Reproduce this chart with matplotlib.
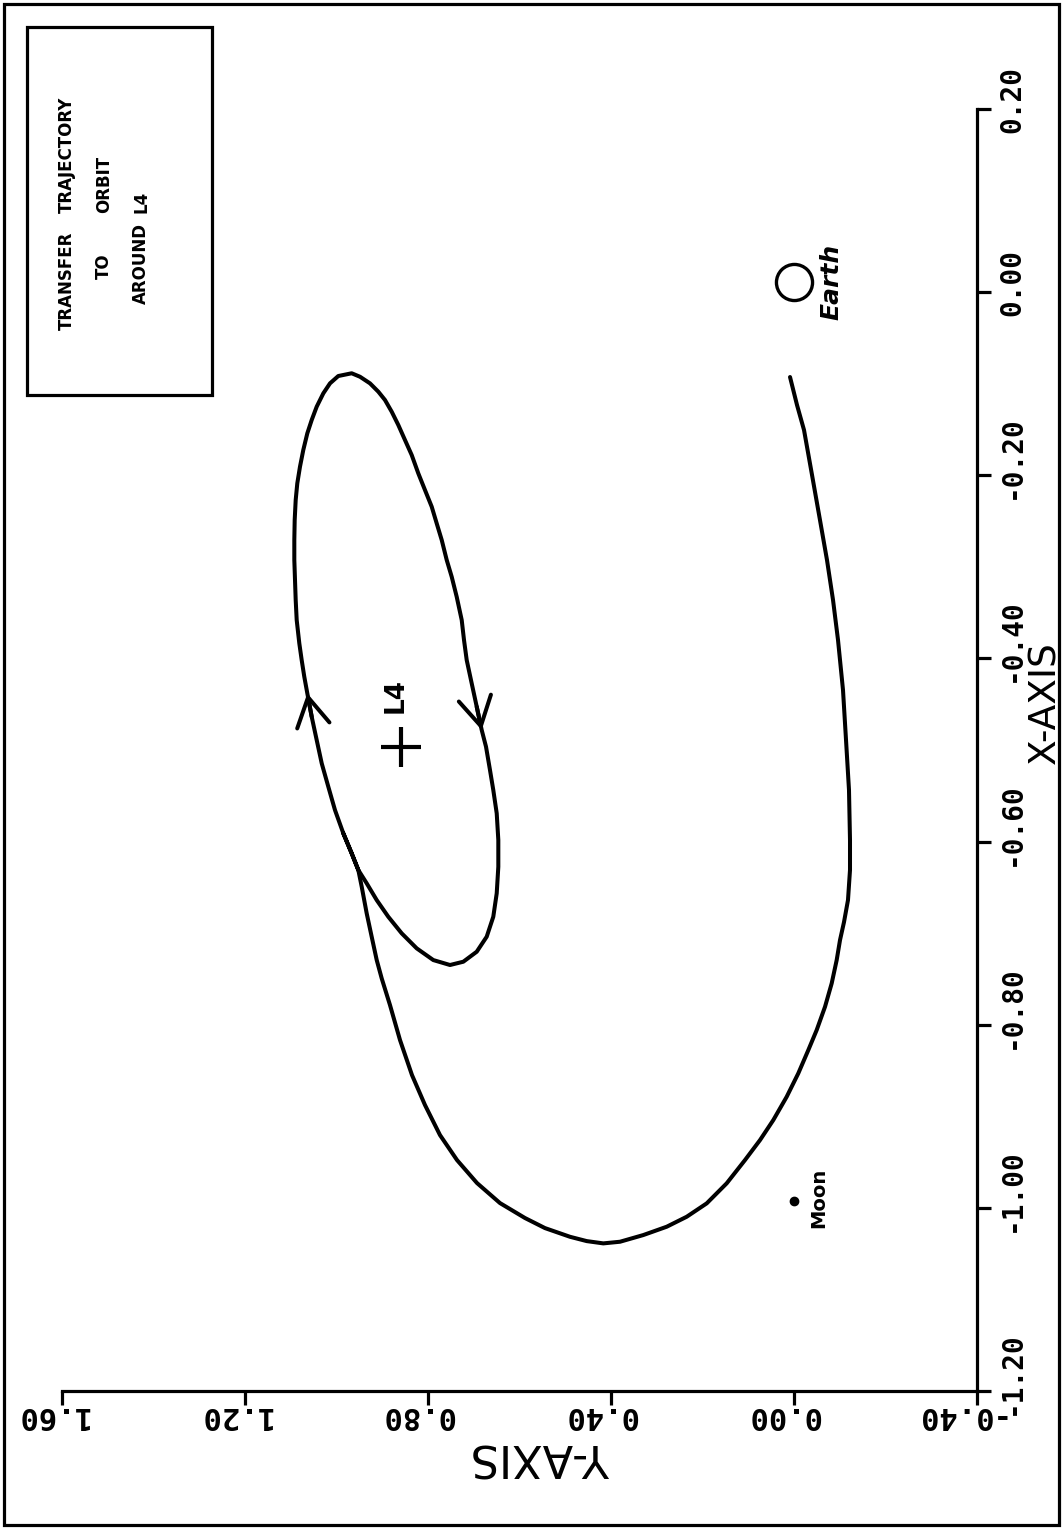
import matplotlib
matplotlib.use("Agg")
import matplotlib.pyplot as plt
from matplotlib.transforms import ScaledTranslation
from matplotlib.patches import Rectangle

# Transfer trajectory (rotating frame, Earth-Moon units): leg from near Earth
# sweeping round the Moon side and joining the periodic orbit around L4.
traj_x = [-0.0927, -0.1233, -0.1506, -0.1997, -0.2489, -0.2925, -0.3362, -0.3799,
          -0.4345, -0.4891, -0.5437, -0.5983, -0.6311, -0.6639, -0.6879, -0.7075,
          -0.7294, -0.7548, -0.7804, -0.8058, -0.8277, -0.8531, -0.8787, -0.9041,
          -0.9260, -0.9478, -0.9732, -0.9951, -1.0097, -1.0206, -1.0297, -1.0370,
          -1.0388, -1.0363, -1.0316, -1.0221, -1.0111, -0.9948, -0.9729, -0.9478,
          -0.9205, -0.8877, -0.8550, -0.8167, -0.7785, -0.7494, -0.7294, -0.7039,
          -0.6784, -0.6493, -0.6311]
traj_y = [0.0087, -0.0066, -0.0219, -0.0394, -0.0568, -0.0721, -0.0853, -0.0962,
          -0.1071, -0.1137, -0.1202, -0.1224, -0.1224, -0.1180, -0.1093, -0.1006,
          -0.0933, -0.0824, -0.0678, -0.0496, -0.0313, -0.0094, 0.0160, 0.0452,
          0.0743, 0.1071, 0.1471, 0.1908, 0.2345, 0.2782, 0.3294, 0.3803,
          0.4168, 0.4531, 0.4896, 0.5443, 0.5880, 0.6426, 0.6929, 0.7366,
          0.7738, 0.8066, 0.8350, 0.8612, 0.8831, 0.9012, 0.9121, 0.9231,
          0.9340, 0.9449, 0.9523]

# Periodic orbit around L4, starting where the transfer leg joins it
orbit_x = [-0.6311, -0.6129, -0.5910, -0.5656, -0.5401, -0.5146, -0.4891, -0.4637,
           -0.4381, -0.4200, -0.4018, -0.3835, -0.3581, -0.3362, -0.3144, -0.2925,
           -0.2707, -0.2489, -0.2270, -0.2088, -0.1906, -0.1724, -0.1542, -0.1396,
           -0.1251, -0.1105, -0.0996, -0.0916, -0.0886, -0.0924, -0.0996, -0.1087,
           -0.1178, -0.1306, -0.1451, -0.1615, -0.1779, -0.1979, -0.2161, -0.2343,
           -0.2525, -0.2707, -0.2925, -0.3108, -0.3326, -0.3581, -0.3799, -0.4018,
           -0.4272, -0.4527, -0.4782, -0.4964, -0.5219, -0.5437, -0.5692, -0.5983,
           -0.6275, -0.6565, -0.6821, -0.7039, -0.7203, -0.7312, -0.7348, -0.7294,
           -0.7166, -0.7002, -0.6821, -0.6639, -0.6456, -0.6311, -0.6129, -0.5910]
orbit_y = [0.9523, 0.9668, 0.9851, 1.0033, 1.0179, 1.0323, 1.0433, 1.0542,
           1.0638, 1.0704, 1.0761, 1.0813, 1.0870, 1.0892, 1.0907, 1.0922,
           1.0922, 1.0914, 1.0892, 1.0857, 1.0798, 1.0726, 1.0638, 1.0542,
           1.0433, 1.0288, 1.0142, 0.9961, 0.9668, 0.9486, 0.9268, 0.9086,
           0.8940, 0.8793, 0.8649, 0.8503, 0.8356, 0.8212, 0.8066, 0.7919,
           0.7810, 0.7700, 0.7591, 0.7482, 0.7373, 0.7263, 0.7213, 0.7154,
           0.7045, 0.6935, 0.6826, 0.6732, 0.6645, 0.6573, 0.6498, 0.6463,
           0.6463, 0.6498, 0.6573, 0.6717, 0.6935, 0.7228, 0.7519, 0.7884,
           0.8247, 0.8575, 0.8868, 0.9121, 0.9340, 0.9523, 0.9668, 0.9851]

# Direction arrows: (head index, tail index) into the orbit arrays
arrow_pairs = [(8, 7), (50, 49)]

earth = (0.011, 0.0)
moon = (-0.993, 0.0)
l4 = (-0.497, 0.858)

x_ticks = [0.20, 0.00, -0.20, -0.40, -0.60, -0.80, -1.00, -1.20]
y_ticks = [1.60, 1.20, 0.80, 0.40, 0.00, -0.40]
x_lim = (-1.2, 0.2)
y_lim = (1.6, -0.4)

legend_words = ["TRANSFER", "TRAJECTORY", "TO", "ORBIT", "AROUND", "L4"]

W, H, DPI = 1062, 1529, 100
fig = plt.figure(figsize=(W / DPI, H / DPI), dpi=DPI)
fig.patch.set_facecolor("white")

# The plot is laid out in landscape and turned a quarter turn:
# X runs up the right-hand axis, Y runs right-to-left along the bottom.
L, R, T, B = 62, 977, 109, 1391
ax = fig.add_axes([L / W, 1 - B / H, (R - L) / W, (B - T) / H])
ax.set_xlim(*y_lim)
ax.set_ylim(*x_lim)

lw = 2.9
ax.plot(traj_y, traj_x, color="black", lw=lw, solid_capstyle="round",
        solid_joinstyle="round")
ax.plot(orbit_y, orbit_x, color="black", lw=lw, solid_capstyle="round",
        solid_joinstyle="round")

for h, t in arrow_pairs:
    ax.annotate("", xy=(orbit_y[h], orbit_x[h]), xytext=(orbit_y[t], orbit_x[t]),
                arrowprops=dict(arrowstyle="->,head_length=1.03,head_width=0.59",
                                lw=lw, color="black", shrinkA=0, shrinkB=0,
                                mutation_scale=20))

# Bodies and libration point
ax.plot([earth[1]], [earth[0]], marker="o", ms=26, mfc="none", mec="black", mew=2.4)
ax.plot([moon[1]], [moon[0]], marker="o", ms=6, color="black")
ax.plot([l4[1]], [l4[0]], marker="+", ms=29, mew=3.0, color="black")

ax.text(earth[1] - 0.081, earth[0], "Earth", rotation=90, ha="center", va="center",
        fontsize=18, fontweight="bold", fontstyle="italic", family="DejaVu Sans")
ax.text(moon[1] - 0.055, moon[0] + 0.004, "Moon", rotation=90, ha="center", va="center",
        fontsize=14, fontweight="bold", family="DejaVu Sans")
ax.text(l4[1] + 0.012, l4[0] + 0.056, "L4", rotation=90, ha="center", va="center",
        fontsize=19, fontweight="bold", family="DejaVu Sans")

# Axes frame: only the right (X) and bottom (Y) lines
for s in ("left", "top"):
    ax.spines[s].set_visible(False)
for s in ("right", "bottom"):
    ax.spines[s].set_linewidth(2.3)
ax.yaxis.tick_right()
ax.set_xticks(y_ticks)
ax.set_yticks(x_ticks)
ax.tick_params(direction="out", length=10, width=2.3, labelbottom=False,
               labelright=False, labelleft=False)

mono = dict(family="DejaVu Sans Mono", fontweight="bold")
xt = ax.get_yaxis_transform() + ScaledTranslation(21 / DPI, -24 / DPI, fig.dpi_scale_trans)
for v in x_ticks:
    ax.text(1.0, v, f"{v:.2f}", rotation=90, ha="left", va="bottom",
            transform=xt, fontsize=20, clip_on=False, **mono)
yt = ax.get_xaxis_transform() + ScaledTranslation(26 / DPI, -10 / DPI, fig.dpi_scale_trans)
for v in y_ticks:
    ax.text(v, 0.0, f"{v:.2f}", rotation=180, ha="right", va="top",
            transform=yt, fontsize=22, clip_on=False, **mono)

xl = ax.transAxes + ScaledTranslation(50 / DPI, 0, fig.dpi_scale_trans)
ax.text(1.0, 0.5367, "X-AXIS", rotation=90, ha="left", va="center",
        transform=xl, fontsize=27, family="DejaVu Sans", clip_on=False)
ax.text(0.5224, -0.0507, "Y-AXIS", rotation=180, ha="center", va="center",
        transform=ax.transAxes, fontsize=32, family="DejaVu Sans", clip_on=False)

# Title box in the upper left corner
fig.patches.append(Rectangle((27 / W, 1 - 395 / H), (212 - 27) / W, (395 - 27) / H,
                             transform=fig.transFigure, fill=False, lw=2.3,
                             edgecolor="black"))
col_x = [67, 104, 141]
first_centre = [281, 266, 264]
for i in range(3):
    first, second = legend_words[2 * i], legend_words[2 * i + 1]
    fig.text(col_x[i] / W, 1 - first_centre[i] / H, first, rotation=90, ha="center",
             va="center", fontsize=12, fontweight="bold", family="DejaVu Sans")
    fig.text(col_x[i] / W, 1 - 213 / H, second, rotation=90, ha="center", va="bottom",
             fontsize=12, fontweight="bold", family="DejaVu Sans")

# Outer page border
fig.patches.append(Rectangle((4 / W, 4 / H), (W - 7) / W, (H - 8) / H,
                             transform=fig.transFigure, fill=False, lw=2.3,
                             edgecolor="black"))

fig.savefig("out.png", dpi=DPI, facecolor="white")
